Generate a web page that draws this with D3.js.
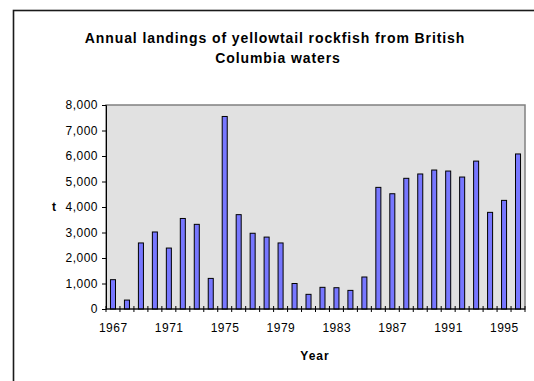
<!DOCTYPE html>
<html lang="en">
<head>
<meta charset="UTF-8">
<title>Annual landings of yellowtail rockfish</title>
<style>
    body { margin: 0; background: #fff; }
    svg { display: block; font-family: "Liberation Sans", Arial, sans-serif; }
    .tick text, .xlabel { font-size: 12px; fill: #000; letter-spacing: 0.5px; }
    .title { font-size: 14px; font-weight: bold; text-anchor: middle; letter-spacing: 0.9px; }
    .axis-title { font-size: 12px; font-weight: bold; letter-spacing: 1px; }
</style>
</head>
<body>
<div id="chart"></div>
<script src="https://cdn.jsdelivr.net/npm/d3@7"></script>
<script>

    var years = d3.range(1967, 1997)
    var landings = [1150, 350, 2590, 3020, 2390, 3550, 3320, 1200, 7550, 3700,
        2970, 2820, 2590, 1000, 575, 850, 835, 730, 1255, 4770,
        4520, 5125, 5295, 5450, 5410, 5175, 5800, 3790, 4260, 6080]
    var yTicks = [0, 1000, 2000, 3000, 4000, 5000, 6000, 7000, 8000]
    var labelYears = [1967, 1971, 1975, 1979, 1983, 1987, 1991, 1995]

    var width = 534, height = 381
    var plot = {left: 106, top: 105, right: 525, bottom: 309}

    var svg = d3.select("#chart").append("svg")
        .attr("width", width)
        .attr("height", height)

    // chart frame (runs off the right and bottom edges)
    svg.append("rect")
        .attr("x", 13.5).attr("y", 10.5)
        .attr("width", 560).attr("height", 400)
        .attr("fill", "#fff")
        .attr("stroke", "#1a1a1a")
        .attr("stroke-width", 1.6)

    svg.append("text")
        .attr("class", "title")
        .attr("x", 275).attr("y", 42.5)
        .text("Annual landings of yellowtail rockfish from British")
    svg.append("text")
        .attr("class", "title")
        .attr("x", 278).attr("y", 63)
        .text("Columbia waters")

    var x = d3.scaleBand()
        .domain(years)
        .range([plot.left, plot.right])
        .paddingInner(0.64)
        .paddingOuter(0.32)

    var xCat = d3.scaleBand()
        .domain(years)
        .range([plot.left, plot.right])

    var y = d3.scaleLinear()
        .domain([0, 8000])
        .range([plot.bottom, plot.top])

    // plot area
    svg.append("rect")
        .attr("x", plot.left).attr("y", plot.top)
        .attr("width", plot.right - plot.left)
        .attr("height", plot.bottom - plot.top)
        .attr("fill", "#e1e1e1")
        .attr("stroke", "#808080")
        .attr("stroke-width", 1.5)

    svg.append("g")
        .selectAll("rect")
        .data(landings)
        .enter().append("rect")
        .attr("x", function (d, i) { return x(years[i]) })
        .attr("y", function (d) { return y(d) })
        .attr("width", x.bandwidth())
        .attr("height", function (d) { return y(0) - y(d) })
        .attr("fill", "#7777ff")
        .attr("stroke", "#000")
        .attr("stroke-width", 1)

    // y axis
    var yAxis = svg.append("g")
        .attr("transform", "translate(" + plot.left + ",0)")
        .call(d3.axisLeft(y).tickValues(yTicks).tickSize(4).tickPadding(4)
            .tickFormat(d3.format(",")))
    yAxis.select(".domain").attr("stroke", "#000")

    // x axis: ticks between categories, crossing the axis line
    var xAxis = svg.append("g")
        .attr("transform", "translate(0," + plot.bottom + ")")
    xAxis.append("line")
        .attr("x1", plot.left).attr("x2", plot.right)
        .attr("stroke", "#000")
    xAxis.selectAll(".xt")
        .data(years.concat([1997]))
        .enter().append("line")
        .attr("x1", function (d) { return d === 1997 ? plot.right : xCat(d) })
        .attr("x2", function (d) { return d === 1997 ? plot.right : xCat(d) })
        .attr("y1", -3).attr("y2", 3)
        .attr("stroke", "#000")
    xAxis.selectAll("text")
        .data(labelYears)
        .enter().append("text")
        .attr("class", "xlabel")
        .attr("x", function (d) { return xCat(d) + xCat.bandwidth() / 2 + 0.3 })
        .attr("y", 22.5)
        .attr("text-anchor", "middle")
        .text(function (d) { return d })

    svg.append("text")
        .attr("class", "axis-title")
        .attr("x", 315).attr("y", 360)
        .attr("text-anchor", "middle")
        .text("Year")

    svg.append("text")
        .attr("class", "axis-title")
        .attr("x", 52).attr("y", 211)
        .text("t")

</script>
</body>
</html>
